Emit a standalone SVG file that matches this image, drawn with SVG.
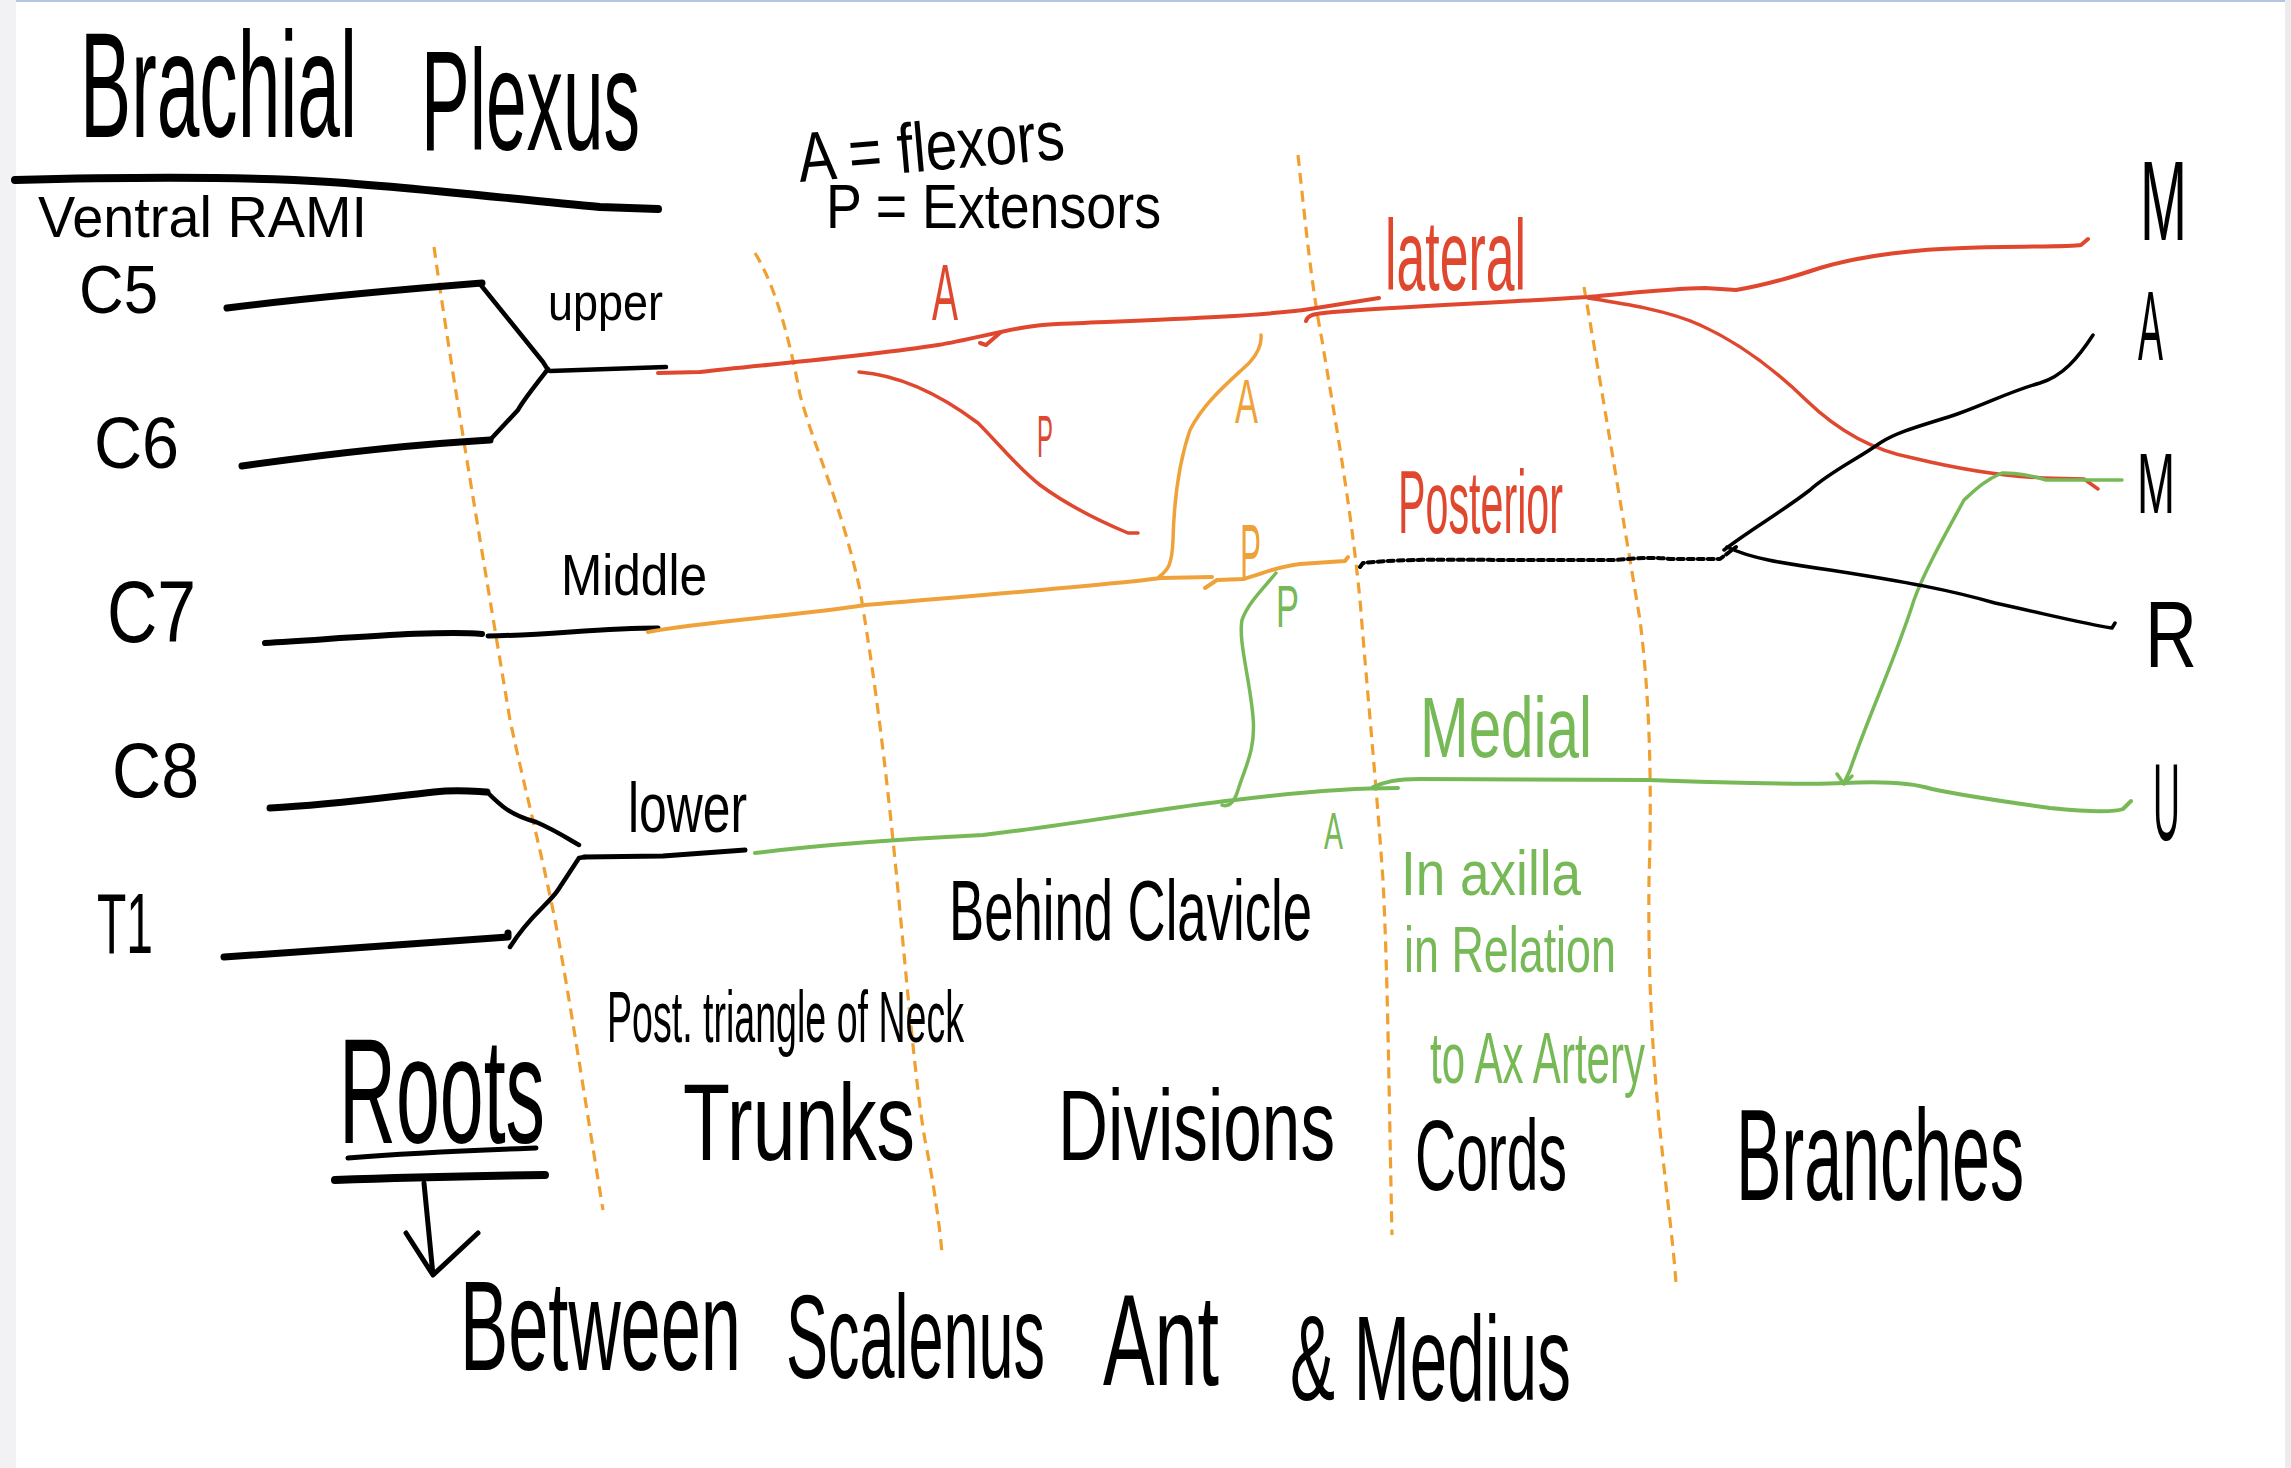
<svg xmlns="http://www.w3.org/2000/svg" width="2291" height="1468" viewBox="0 0 2291 1468">
<style>
.hw{font-family:"Liberation Sans",Arial,sans-serif;}
.k{fill:#000}.r{fill:#e0472f}.o{fill:#f0a23a}.g{fill:#77b957}
.ln{fill:none;stroke-linecap:round;stroke-linejoin:round}
.sk{stroke:#000}.sr{stroke:#e0472f}.so{stroke:#f0a23a}.sg{stroke:#77b957}
.div{fill:none;stroke:#f0a030;stroke-width:3.2;stroke-dasharray:11 7}
</style>
<rect width="2291" height="1468" fill="#ffffff"/>
<rect x="0" y="0" width="16" height="1468" fill="#f2f2f5"/>
<rect x="2285" y="0" width="6" height="1468" fill="#ececef"/>
<rect x="16" y="0" width="2269" height="2" fill="#b4c6e0"/>

<g id="dividers">
<path class="div" d="M434,247 C450,360 470,480 510,720 C525,790 541,850 555,920 C570,1000 585,1100 603,1210"/>
<path class="div" d="M755,253 C775,285 790,340 800,395 C815,450 840,500 860,590 C875,680 885,760 895,860 C905,960 915,1083 925,1140 C935,1190 940,1230 942,1253"/>
<path class="div" d="M1298,155 C1305,220 1312,290 1322,340 C1335,420 1350,500 1360,600 C1368,700 1376,780 1383,880 C1388,980 1389,1100 1392,1235"/>
<path class="div" d="M1584,287 C1595,350 1620,500 1640,620 C1650,700 1652,787 1649,880 C1648,973 1652,1050 1660,1130 C1666,1190 1673,1240 1676,1283"/>
</g>

<g id="connectors">
<path class="ln sk" stroke-width="8" d="M15,180 C130,177 252,177 330,182 C420,188 520,200 600,207 L658,209"/>
<path class="ln sk" stroke-width="7" d="M227,308 C306,298 420,288 482,283"/>
<path class="ln sk" stroke-width="4.5" d="M480,284 L543,362 L548,370"/>
<path class="ln sk" stroke-width="4.5" d="M548,369 C530,392 522,402 518,410 L490,440"/>
<path class="ln sk" stroke-width="7" d="M242,466 C320,455 420,444 490,440"/>
<path class="ln sk" stroke-width="4.5" d="M550,371 L666,367"/>
<path class="ln sk" stroke-width="6" d="M265,643 C350,638 440,630 482,634"/>
<path class="ln sk" stroke-width="5" d="M488,636 C550,635 600,628 658,628"/>
<path class="ln sk" stroke-width="7" d="M270,808 C330,805 380,798 434,792 C460,789 480,792 487,792"/>
<path class="ln sk" stroke-width="4.5" d="M487,792 C500,805 510,815 536,822 C555,830 570,840 579,845"/>
<path class="ln sk" stroke-width="7" d="M224,957 C300,952 420,943 508,937 L508,933"/>
<path class="ln sk" stroke-width="4.5" d="M510,947 C530,915 548,905 558,890 L579,858 L585,857"/>
<path class="ln sk" stroke-width="5" d="M584,857 L663,856 L745,850"/>
<path class="ln sr" stroke-width="4" d="M658,373 L700,372 C760,365 860,357 938,345 C980,338 1020,325 1057,324 C1150,320 1254,317 1310,309 L1379,298"/>
<path class="ln sr" stroke-width="4" d="M980,343 L986,345 L1001,332"/>
<path class="ln sr" stroke-width="4" d="M1306,321 C1308,315 1312,314 1333,312 C1400,307 1490,303 1588,297 C1640,292 1679,288 1705,288 L1736,290 C1760,286 1790,278 1820,268 C1863,255 1920,249 1964,248 C2020,246 2070,247 2081,245 L2088,239"/>
<path class="ln sr" stroke-width="3.5" d="M1588,298 C1620,303 1667,310 1700,325 C1740,343 1775,370 1806,400 C1835,428 1870,450 1913,458 C1950,467 2000,476 2043,478 L2084,479 L2098,489"/>
<path class="ln sr" stroke-width="3.5" d="M859,372 C899,375 938,393 978,423 C1000,445 1017,467 1040,485 C1070,507 1104,523 1128,533 L1138,533"/>
<path class="ln so" stroke-width="4" d="M648,632 C700,622 804,615 865,605 C957,597 1110,585 1161,578 L1212,577"/>
<path class="ln so" stroke-width="4" d="M1205,588 L1217,580 L1243,579 C1260,575 1274,567 1300,564 L1345,561 L1348,557"/>
<path class="ln so" stroke-width="3.5" d="M1159,577 C1168,570 1172,565 1173,540 C1174,500 1178,465 1190,430 C1205,400 1235,377 1250,362 C1258,353 1262,345 1261,335"/>
<path class="ln sg" stroke-width="4" d="M755,853 C820,845 881,840 983,835 C1085,823 1161,808 1235,800 C1300,792 1350,788 1398,788"/>
<path class="ln sg" stroke-width="4" d="M1373,787 C1385,782 1395,779 1420,779 L1648,780 C1700,782 1806,785 1844,783 C1882,781 1910,782 1932,789 C1960,795 2014,803 2050,808 C2090,812 2115,812 2123,809 L2131,801"/>
<path class="ln sg" stroke-width="3.5" d="M1276,573 C1262,590 1248,603 1242,620 C1238,640 1250,680 1253,717 C1256,750 1245,767 1238,790 C1235,800 1230,808 1222,805"/>
<path class="ln sg" stroke-width="3.5" d="M2122,480 L2046,480 C2020,472 2002,473 2002,473 C1985,480 1975,490 1964,500 C1945,535 1925,570 1914,600 C1895,660 1870,712 1850,770 L1844,783"/>
<path class="ln sg" stroke-width="3.5" d="M1837,774 L1844,784 L1852,776"/>
<path class="ln sk" stroke-width="4" stroke-dasharray="6 4" d="M1360,567 L1363,563 C1390,560 1426,559 1500,560 L1616,560 C1640,558 1654,557 1670,559 L1720,559 L1736,547"/>
<path class="ln sk" stroke-width="3.5" d="M1724,550 C1750,530 1780,513 1810,490 C1830,472 1856,460 1880,443 C1900,430 1932,423 1960,413 C1990,402 2014,390 2040,383 C2063,376 2078,358 2093,335"/>
<path class="ln sk" stroke-width="3.5" d="M1727,547 C1750,558 1780,563 1830,570 C1907,582 1950,590 1995,603 C2050,615 2090,625 2112,628 L2115,623"/>
<path class="ln sk" stroke-width="5" d="M348,1158 C420,1152 480,1150 536,1148"/>
<path class="ln sk" stroke-width="8" d="M335,1180 C420,1177 480,1176 545,1175"/>
<path class="ln sk" stroke-width="5" d="M424,1183 L433,1275 M406,1233 L433,1275 L478,1233"/>
</g>

<g id="title" class="hw k">
<text transform="translate(80,137) scale(1,1.96)" font-size="76.7" textLength="277" lengthAdjust="spacingAndGlyphs">Brachial</text>
<text transform="translate(421,150) scale(1,1.945)" font-size="73" textLength="219" lengthAdjust="spacingAndGlyphs">Plexus</text>
</g>
<g id="ventral-rami" class="hw k"><text transform="translate(38,237) scale(1,1.05)" font-size="55.3" textLength="329" lengthAdjust="spacingAndGlyphs">Ventral RAMI</text></g>
<g id="legend" class="hw k">
<text transform="rotate(-5 800 182) translate(800,182) scale(1,1.25)" font-size="56" textLength="267" lengthAdjust="spacingAndGlyphs">A = flexors</text>
<text transform="translate(826,228) scale(1,1.19)" font-size="53.6" textLength="335" lengthAdjust="spacingAndGlyphs">P = Extensors</text>
</g>
<g id="roots-labels" class="hw k">
<g id="C5"><text transform="translate(79,313) scale(1,1.1)" font-size="61.8" textLength="79" lengthAdjust="spacingAndGlyphs">C5</text></g>
<g id="C6"><text transform="translate(94,468) scale(1,1.08)" font-size="66.5" textLength="85" lengthAdjust="spacingAndGlyphs">C6</text></g>
<g id="C7"><text transform="translate(107,642) scale(1,1.24)" font-size="69.6" textLength="89" lengthAdjust="spacingAndGlyphs">C7</text></g>
<g id="C8"><text transform="translate(112,797) scale(1,1.15)" font-size="68" textLength="87" lengthAdjust="spacingAndGlyphs">C8</text></g>
<g id="T1"><text transform="translate(97,953) scale(1,1.79)" font-size="48" textLength="56" lengthAdjust="spacingAndGlyphs">T1</text></g>
</g>
<g id="trunks" class="hw k">
<g id="upper"><text transform="translate(548,320) scale(1,1.16)" font-size="45" textLength="115" lengthAdjust="spacingAndGlyphs">upper</text></g>
<g id="middle"><text transform="translate(561,595) scale(1,1.17)" font-size="49.6" textLength="146" lengthAdjust="spacingAndGlyphs">Middle</text></g>
<g id="lower"><text transform="translate(628,832) scale(1,1.41)" font-size="49.8" textLength="119" lengthAdjust="spacingAndGlyphs">lower</text></g>
</g>
<g id="division-labels" class="hw">
<text class="r" transform="translate(932,320) scale(1,2.05)" font-size="39" textLength="26" lengthAdjust="spacingAndGlyphs">A</text>
<text class="r" transform="translate(1037,457) scale(1,2.5)" font-size="24" textLength="16" lengthAdjust="spacingAndGlyphs">P</text>
<text class="o" transform="translate(1235,423) scale(1,1.8)" font-size="34.5" textLength="23" lengthAdjust="spacingAndGlyphs">A</text>
<text class="o" transform="translate(1240,580) scale(1,2.54)" font-size="31.5" textLength="21" lengthAdjust="spacingAndGlyphs">P</text>
<text class="g" transform="translate(1276,627) scale(1,1.74)" font-size="34.5" textLength="23" lengthAdjust="spacingAndGlyphs">P</text>
<text class="g" transform="translate(1324,849) scale(1,1.82)" font-size="28.5" textLength="19" lengthAdjust="spacingAndGlyphs">A</text>
</g>
<g id="cords" class="hw">
<g id="lateral"><text class="r" transform="translate(1385,290) scale(1,1.93)" font-size="51.8" textLength="141" lengthAdjust="spacingAndGlyphs">lateral</text></g>
<g id="posterior"><text class="r" transform="translate(1398,533) scale(1,2.18)" font-size="41.2" textLength="165" lengthAdjust="spacingAndGlyphs">Posterior</text></g>
<g id="medial"><text class="g" transform="translate(1420,757) scale(1,1.46)" font-size="58.4" textLength="172" lengthAdjust="spacingAndGlyphs">Medial</text></g>
</g>
<g id="notes" class="hw">
<text class="k" transform="translate(949,940) scale(1,1.63)" font-size="52.7" textLength="363" lengthAdjust="spacingAndGlyphs">Behind Clavicle</text>
<text class="k" transform="translate(607,1042) scale(1,1.92)" font-size="37.5" textLength="357" lengthAdjust="spacingAndGlyphs">Post. triangle of Neck</text>
<text class="g" transform="translate(1401,895) scale(1,1.2)" font-size="53" textLength="180" lengthAdjust="spacingAndGlyphs">In axilla</text>
<text class="g" transform="translate(1404,972) scale(1,1.43)" font-size="44.9" textLength="212" lengthAdjust="spacingAndGlyphs">in Relation</text>
<text class="g" transform="translate(1430,1083) scale(1,1.75)" font-size="41.2" textLength="215" lengthAdjust="spacingAndGlyphs">to Ax Artery</text>
</g>
<g id="sections" class="hw k">
<text transform="translate(339,1143) scale(1,1.9)" font-size="78.9" textLength="206" lengthAdjust="spacingAndGlyphs">Roots</text>
<text transform="translate(683,1160) scale(1,1.45)" font-size="75.9" textLength="232" lengthAdjust="spacingAndGlyphs">Trunks</text>
<text transform="translate(1058,1160) scale(1,1.44)" font-size="69.3" textLength="277" lengthAdjust="spacingAndGlyphs">Divisions</text>
<text transform="translate(1415,1190) scale(1,1.75)" font-size="57" textLength="152" lengthAdjust="spacingAndGlyphs">Cords</text>
<text transform="translate(1736,1200) scale(1,1.91)" font-size="68.2" textLength="288" lengthAdjust="spacingAndGlyphs">Branches</text>
</g>
<g id="roots-note" class="hw k">
<text transform="translate(460,1370) scale(1,1.77)" font-size="72.2" textLength="281" lengthAdjust="spacingAndGlyphs">Between</text>
<text transform="translate(786,1378) scale(1,1.87)" font-size="63" textLength="259" lengthAdjust="spacingAndGlyphs">Scalenus</text>
<text transform="translate(1103,1385) scale(1,1.68)" font-size="77.3" textLength="116" lengthAdjust="spacingAndGlyphs">Ant</text>
<text transform="translate(1290,1400) scale(1,1.78)" font-size="67.4" textLength="281" lengthAdjust="spacingAndGlyphs">&amp; Medius</text>
</g>
<g id="branches" class="hw k">
<g id="musculocutaneous"><text transform="translate(2140,240) scale(1,1.99)" font-size="56.4" textLength="47" lengthAdjust="spacingAndGlyphs">M</text></g>
<g id="axillary"><text transform="translate(2138,360) scale(1,2.61)" font-size="37.5" textLength="25" lengthAdjust="spacingAndGlyphs">A</text></g>
<g id="median"><text transform="translate(2137,513) scale(1,1.86)" font-size="45.6" textLength="38" lengthAdjust="spacingAndGlyphs">M</text></g>
<g id="radial"><text transform="translate(2145,667) scale(1,1.31)" font-size="72" textLength="52" lengthAdjust="spacingAndGlyphs">R</text></g>
<g id="ulnar"><text transform="translate(2153,840) scale(1,2.94)" font-size="37.4" textLength="27" lengthAdjust="spacingAndGlyphs">U</text></g>
</g>
</svg>
